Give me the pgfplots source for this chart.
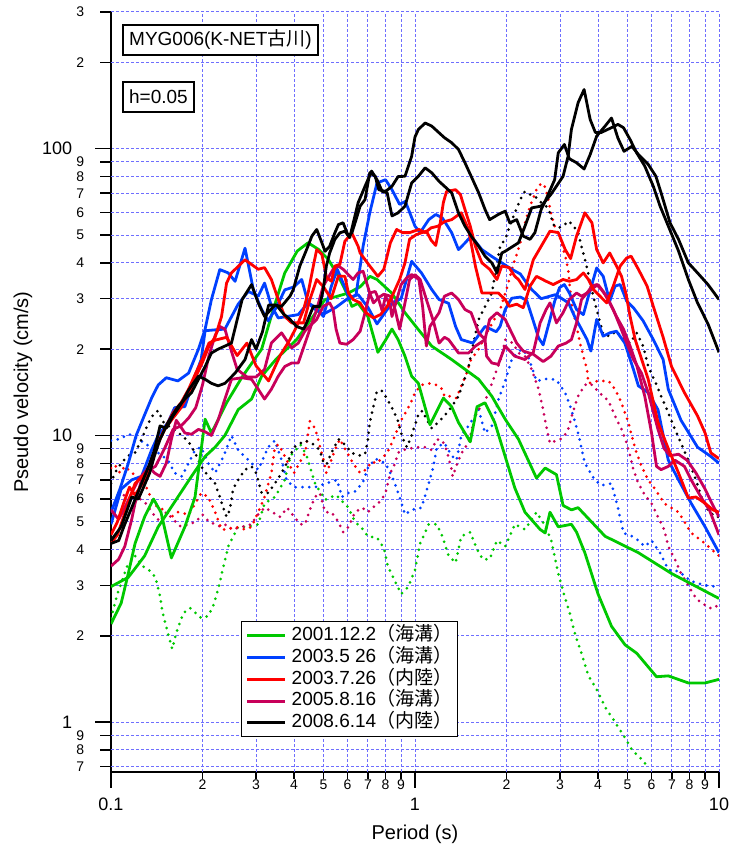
\documentclass[border=0pt]{standalone}
\usepackage{fontspec}
\setmainfont{Liberation Sans}
\newfontfamily\cjk{Noto Sans CJK JP}
\usepackage{pgfplots}
\pgfplotsset{compat=1.18}

\definecolor{cgreen}{RGB}{0,200,0}
\definecolor{cblue}{RGB}{0,64,255}
\definecolor{cred}{RGB}{255,0,0}
\definecolor{ccrim}{RGB}{200,0,90}
\definecolor{cgrid}{RGB}{110,110,255}

\pgfplotsset{
  sol/.style={no marks, line width=1.4pt, line join=round, forget plot},
  dot/.style={no marks, line width=1.5pt, line cap=round, dash pattern=on 0pt off 3.4pt, forget plot},
}

\begin{document}
\begin{tikzpicture}
\begin{axis}[
  scale only axis, width=304pt, height=380pt,
  xmode=log, ymode=log,
  xmin=0.1, xmax=10, ymin=0.67, ymax=300,
  axis x line*=bottom, axis y line*=left,
  axis line style={-, line width=1.4pt},
  tick align=outside, xminorticks=false, yminorticks=false,
  major tick length=8pt,
  tick style={black, line width=0.7pt},
  grid=major,
  major grid style={cgrid, line width=0.5pt, dash pattern=on 1.5pt off 1pt},
  xtick={0.1,1,10}, xticklabels={0.1,1,10},
  ytick={1,10,100}, yticklabels={1,10,100},
  xticklabel style={font=\fontsize{9}{9}\selectfont, anchor=center, yshift=-8pt},
  yticklabel style={font=\fontsize{9}{9}\selectfont, anchor=east, inner sep=0pt, xshift=-11.25pt},
  extra x ticks={0.2,0.3,0.4,0.5,0.6,0.7,0.8,0.9,2,3,4,5,6,7,8,9},
  extra x tick labels={2,3,4,5,6,7,8,9,2,3,4,5,6,7,8,9},
  extra x tick style={grid=major, major tick length=3.5pt,
    xticklabel style={font=\fontsize{7}{7}\selectfont, yshift=5pt}},
  extra y ticks={0.7,0.8,0.9,2,3,4,5,6,7,8,9,20,30,40,50,60,70,80,90,200,300},
  extra y tick labels={7,8,9,2,3,4,5,6,7,8,9,2,3,4,5,6,7,8,9,2,3},
  extra y tick style={grid=major, major tick length=5.5pt,
    yticklabel style={font=\fontsize{7}{7}\selectfont, xshift=3.45pt}},
  xlabel={Period (s)}, ylabel={Pseudo velocity (cm/s)},
  xlabel style={font=\fontsize{10}{10}\selectfont, at={(axis description cs:0.5,-0.0816)}, anchor=center},
  ylabel style={font=\fontsize{10}{10}\selectfont, at={(axis description cs:-0.145,0.5)}, anchor=center},
  legend style={at={(0.2138,0.1987)}, anchor=north west, draw=black, line width=0.75pt,
    font=\fontsize{9.5}{9.5}\selectfont, inner xsep=2pt, inner ysep=1.5pt, row sep=0pt,
    nodes={inner sep=0.5pt, text height=7.4pt, text depth=2.5pt}},
  legend cell align=left,
  legend image code/.code={\draw[line width=1.5pt] (0pt,0pt) -- (19pt,0pt);},
]
\coordinate (SW) at (rel axis cs:0,0);
\coordinate (NE) at (rel axis cs:1,1);

\addlegendimage{cgreen}\addlegendentry{\hspace{2pt}2001.12.2{\cjk （海溝）}}
\addlegendimage{cblue}\addlegendentry{\hspace{2pt}2003.5 26{\cjk （海溝）}}
\addlegendimage{cred}\addlegendentry{\hspace{2pt}2003.7.26{\cjk （内陸）}}
\addlegendimage{ccrim}\addlegendentry{\hspace{2pt}2005.8.16{\cjk （海溝）}}
\addlegendimage{black}\addlegendentry{\hspace{2pt}2008.6.14{\cjk （内陸）}}

% dotted (vertical component)
\addplot[dot, cgreen] coordinates {(0.1,2.3)(0.105,2.8)(0.113,3.5)(0.12,3.8)(0.127,3.5)(0.133,3.4)(0.14,3.2)(0.145,2.75)(0.148,2.4)(0.152,2.15)(0.156,1.94)(0.159,1.8)(0.164,2.05)(0.173,2.4)(0.182,2.5)(0.19,2.4)(0.199,2.3)(0.209,2.35)(0.217,2.55)(0.225,2.9)(0.243,4.1)(0.262,4.8)(0.28,4.8)(0.305,4.9)(0.32,5.8)(0.346,6.1)(0.373,7.0)(0.39,8.5)(0.42,9.3)(0.44,8.5)(0.469,6.8)(0.506,5.97)(0.55,6.2)(0.604,5.6)(0.635,5.0)(0.675,4.7)(0.70,4.45)(0.75,4.4)(0.79,4.05)(0.814,3.5)(0.86,3.1)(0.90,2.8)(0.95,2.96)(1.0,3.4)(1.04,4.2)(1.11,4.9)(1.18,4.9)(1.23,4.45)(1.29,3.8)(1.36,3.6)(1.42,4.45)(1.52,4.6)(1.6,4.0)(1.67,3.7)(1.76,3.7)(1.86,4.3)(1.98,4.1)(2.13,4.9)(2.3,4.7)(2.51,5.4)(2.66,4.9)(2.8,4.35)(2.96,3.3)(3.12,2.7)(3.23,2.4)(3.35,2.05)(3.53,1.74)(3.72,1.45)(3.96,1.3)(4.22,1.13)(4.55,1.0)(4.85,0.9)(5.17,0.8)(5.66,0.73)(5.8,0.7)};
\addplot[dot, cblue] coordinates {(0.1,9.6)(0.106,9.7)(0.115,10.1)(0.123,9.7)(0.133,9.2)(0.143,8.7)(0.154,8.2)(0.162,7.4)(0.171,7.2)(0.18,8.0)(0.189,8.9)(0.198,9.1)(0.209,8.0)(0.22,7.4)(0.235,8.5)(0.249,10)(0.262,8.9)(0.28,8.3)(0.305,7.6)(0.329,9.1)(0.346,9.6)(0.364,8.2)(0.378,7.0)(0.40,6.6)(0.435,6.6)(0.469,6.6)(0.51,6.8)(0.554,7.0)(0.575,6.1)(0.604,6.3)(0.64,6.4)(0.675,6.9)(0.70,7.7)(0.74,8.3)(0.80,8.0)(0.85,7.0)(0.89,6.1)(0.927,5.3)(0.975,5.5)(1.05,5.6)(1.11,6.8)(1.15,7.8)(1.18,9.1)(1.25,9.4)(1.32,8.5)(1.37,8.2)(1.42,10)(1.5,10.8)(1.62,12.3)(1.70,10.2)(1.79,10.8)(1.88,13.3)(1.98,15.5)(2.08,18.4)(2.24,20)(2.35,19)(2.51,15.5)(2.75,15.8)(2.92,15.6)(3.12,14.1)(3.27,12.3)(3.44,10.2)(3.62,8)(3.9,7.0)(4.1,6.7)(4.43,6.8)(4.65,5.6)(4.85,4.57)(5.17,4.45)(5.43,4.3)(5.7,4.1)(6.0,4.3)(6.4,3.9)(6.81,3.4)(7.36,3.36)(8.1,3.1)(9.0,3.0)(10,2.96)};
\addplot[dot, ccrim] coordinates {(0.1,5.5)(0.105,6.0)(0.11,6.2)(0.115,6.0)(0.12,6.2)(0.13,5.8)(0.138,5.3)(0.145,5.0)(0.152,5.4)(0.16,5.1)(0.17,4.8)(0.18,4.9)(0.19,5.0)(0.2,5.3)(0.21,5.0)(0.22,4.9)(0.23,4.8)(0.24,4.9)(0.25,4.7)(0.27,4.8)(0.29,4.9)(0.3,5.2)(0.32,5.6)(0.34,5.4)(0.36,5.2)(0.38,5.6)(0.4,5.2)(0.42,4.9)(0.435,4.9)(0.451,5.5)(0.469,6.1)(0.486,6.3)(0.506,5.4)(0.531,5.4)(0.56,5.0)(0.58,4.6)(0.604,4.8)(0.635,5.4)(0.67,5.6)(0.70,5.4)(0.74,5.7)(0.77,5.9)(0.8,6.3)(0.83,7.4)(0.86,8.0)(0.88,8.7)(0.91,8.9)(0.96,9.0)(1.03,9.1)(1.08,9.1)(1.135,8.9)(1.18,9.7)(1.23,9.6)(1.27,8.9)(1.32,7.6)(1.33,7.2)(1.39,8.2)(1.44,8.9)(1.5,9.4)(1.55,10.8)(1.6,12.2)(1.66,12.6)(1.72,13.6)(1.79,15.2)(1.86,17)(1.93,18.9)(1.98,21.6)(2.1,21)(2.19,19.4)(2.3,18.9)(2.42,17)(2.55,14.5)(2.64,12.3)(2.7,10.8)(2.78,9.4)(2.92,9.6)(3.07,9.8)(3.19,10.5)(3.3,12.0)(3.44,13.7)(3.62,15.0)(3.77,15.2)(3.92,14.6)(4.1,13.9)(4.33,13.2)(4.55,11.7)(4.78,10.5)(4.97,9.4)(5.1,8.5)(5.23,7.6)(5.43,6.8)(5.7,6.2)(6.0,5.8)(6.3,5.2)(6.6,4.7)(6.81,4.1)(7.16,3.7)(7.5,3.3)(7.85,3.05)(8.4,2.7)(8.8,2.6)(9.3,2.5)(9.7,2.5)(10,2.6)};
\addplot[dot, cred] coordinates {(0.1,7.7)(0.103,7.9)(0.107,7.4)(0.111,7.8)(0.117,7.4)(0.123,7.2)(0.129,6.8)(0.138,5.8)(0.143,5.6)(0.15,5.5)(0.158,5.2)(0.166,5.4)(0.18,5.3)(0.186,5.6)(0.198,6.3)(0.209,6.1)(0.22,5.4)(0.231,4.7)(0.243,4.7)(0.256,4.8)(0.276,4.7)(0.29,4.8)(0.305,5.4)(0.32,6.1)(0.337,7.4)(0.346,9.1)(0.355,9.3)(0.364,8.9)(0.383,8.0)(0.40,7.4)(0.435,8.7)(0.451,11.2)(0.469,10.6)(0.48,9.7)(0.499,8.3)(0.511,7.4)(0.524,7.9)(0.545,8.9)(0.566,9.7)(0.588,9.0)(0.63,7.9)(0.66,7.4)(0.69,7.6)(0.72,8.1)(0.75,8.0)(0.81,8.7)(0.85,9.7)(0.90,11.3)(0.927,11.9)(0.975,13.2)(1.0,14.1)(1.05,15.0)(1.11,15.2)(1.18,15.0)(1.23,14.5)(1.25,13.7)(1.32,13.7)(1.37,13.5)(1.42,14.9)(1.48,16.5)(1.52,18.2)(1.62,20)(1.75,23.5)(1.905,27.5)(2.0,32.3)(2.1,39)(2.22,47)(2.3,55)(2.39,63)(2.51,72)(2.6,75.7)(2.66,75)(2.73,68.4)(2.8,59.8)(2.88,53.7)(2.99,49.6)(3.12,42.2)(3.19,38)(3.27,29)(3.4,24)(3.49,21)(3.58,18.9)(3.68,17.0)(3.72,15.2)(4.0,15.5)(4.33,15.5)(4.55,14.5)(4.78,13.0)(5.03,11.1)(5.3,9.0)(5.56,7.8)(5.85,7.0)(6.16,6.5)(6.6,5.8)(7.36,5.4)(8.1,4.57)(9.0,4.2)(10,3.8)};
\addplot[dot, black] coordinates {(0.1,6.8)(0.103,7.4)(0.108,8.0)(0.114,8.5)(0.12,8.7)(0.126,9.7)(0.133,11.1)(0.139,12)(0.143,12.2)(0.149,11.1)(0.158,10.6)(0.171,10)(0.18,9.5)(0.189,8.7)(0.198,7.8)(0.209,7.2)(0.22,6.8)(0.228,6.1)(0.234,5.6)(0.24,5.2)(0.246,5.5)(0.252,6.5)(0.262,7.0)(0.276,7.6)(0.29,7.8)(0.30,7.4)(0.313,6.3)(0.329,6.3)(0.346,6.8)(0.364,7.4)(0.383,8.2)(0.40,9.1)(0.435,9.6)(0.458,9.4)(0.486,8.9)(0.499,8.1)(0.511,7.9)(0.531,8.7)(0.56,9.7)(0.588,9.3)(0.62,8.7)(0.65,8.5)(0.685,8.6)(0.70,9.7)(0.71,11.1)(0.73,12.6)(0.75,14.3)(0.78,14.3)(0.81,13.4)(0.85,12.2)(0.88,11.2)(0.91,9.8)(0.94,9.1)(0.975,10)(1.03,12)(1.06,12.2)(1.09,11.4)(1.135,10.6)(1.19,11.1)(1.25,11.7)(1.32,12.6)(1.39,13.7)(1.44,15.2)(1.5,17.4)(1.55,20.5)(1.62,25.4)(1.79,31.4)(1.905,45.7)(1.98,48.3)(2.05,53.7)(2.13,59.8)(2.22,66.5)(2.3,71)(2.39,69.3)(2.48,68.3)(2.57,65.6)(2.7,63.1)(2.78,59.8)(2.85,54.4)(2.96,53)(3.07,53.7)(3.19,55.9)(3.3,54.4)(3.44,51)(3.53,45.7)(3.62,41.2)(3.69,38)(3.77,34)(3.86,30.6)(3.96,27.5)(4.06,24.8)(4.16,22.5)(4.37,22.2)(4.6,23.1)(4.85,21.6)(5.1,21)(5.36,22.8)(5.63,20.5)(5.85,17.4)(6.2,15.2)(6.45,13.7)(6.81,12.0)(7.16,10.5)(7.5,9.4)(7.93,8.2)(8.4,7.0)(8.8,6.0)(9.2,5.5)(9.7,5.2)(10,5.2)};

% green 2001.12.2
\addplot[sol, cgreen] coordinates {(0.1,2.97)(0.114,3.2)(0.129,3.8)(0.143,4.8)(0.166,6.1)(0.184,7.2)(0.204,8.45)(0.22,9.1)(0.237,10)(0.262,12.3)(0.29,13.4)(0.313,16.1)(0.35,18.5)(0.408,21.6)(0.45,25)(0.506,29.8)(0.55,30.5)(0.604,31.4)(0.66,33)(0.711,35.9)(0.75,35)(0.838,31.4)(0.927,26.8)(1.026,23.4)(1.135,20.5)(1.32,18.4)(1.62,15.7)(1.79,13.7)(1.98,11.4)(2.19,9.7)(2.51,7.1)(2.68,7.7)(2.92,7.3)(3.07,5.7)(3.27,5.5)(3.44,5.6)(4.22,4.45)(5.43,3.9)(6.98,3.3)(10,2.7)};
\addplot[sol, cgreen] coordinates {(0.1,2.2)(0.108,2.6)(0.114,3.3)(0.12,4.2)(0.129,5.2)(0.138,6.0)(0.146,5.4)(0.158,3.74)(0.175,4.8)(0.189,6.1)(0.204,11.4)(0.214,10.2)(0.24,13)(0.27,16)(0.313,20)(0.34,27)(0.373,36.9)(0.41,44)(0.445,47)(0.481,44.6)(0.518,41.2)(0.56,35.9)(0.596,31.4)(0.62,28.2)(0.65,28.9)(0.7,26)(0.755,19.5)(0.8,21.5)(0.84,23.5)(0.88,21.6)(0.927,18.9)(0.975,16.1)(1.026,15.2)(1.12,10.9)(1.24,13.5)(1.32,12.6)(1.39,11.1)(1.52,9.5)(1.6,12.6)(1.7,13)(1.83,11.1)(1.98,8.45)(2.13,6.56)(2.3,5.4)(2.58,4.7)(2.68,4.57)(2.78,5.4)(2.96,4.8)(3.27,4.9)(3.4,4.6)(3.62,3.9)(4.0,2.8)(4.43,2.16)(4.91,1.86)(5.36,1.74)(6.23,1.44)(6.81,1.45)(7.93,1.37)(9.0,1.37)(10,1.41)};

% blue 2003.5.26
\addplot[sol, cblue] coordinates {(0.1,5.4)(0.107,6.5)(0.114,8)(0.121,10)(0.129,11.8)(0.136,13.5)(0.143,15)(0.152,15.9)(0.166,15.5)(0.18,16.5)(0.194,20)(0.204,23.5)(0.214,29.8)(0.228,37.9)(0.243,36.9)(0.256,34.5)(0.276,45)(0.294,32.2)(0.313,27.5)(0.329,25.1)(0.35,28)(0.373,32.2)(0.4,33)(0.424,35)(0.445,29)(0.47,28)(0.5,26)(0.53,33)(0.555,38)(0.58,34)(0.61,30)(0.64,31)(0.675,45.7)(0.71,59.8)(0.75,76)(0.8,78)(0.84,72)(0.89,64)(0.93,65.5)(1.0,53.7)(1.04,51)(1.11,56.6)(1.17,59)(1.23,57.4)(1.32,51)(1.39,44.5)(1.46,46.9)(1.53,49.6)(1.66,44.5)(1.79,42.1)(1.93,40)(2.08,38)(2.22,36.6)(2.33,34)(2.42,32.3)(2.6,30)(2.9,31)(3.2,29)(3.35,26)(3.49,24)(3.68,21.6)(3.79,19.7)(3.96,25.4)(4.16,22.2)(4.37,22.8)(4.6,23.1)(4.9,21)(5.23,17)(5.43,14.9)(5.85,14.1)(6.3,12.3)(6.81,8.2)(7.36,7.0)(8.1,5.8)(9.0,4.8)(10,3.9)};
\addplot[sol, cblue] coordinates {(0.1,4.9)(0.108,6.5)(0.117,7.0)(0.126,7.2)(0.136,8.9)(0.143,10)(0.154,11.1)(0.162,12.5)(0.175,12.6)(0.189,16.1)(0.198,18.4)(0.204,23.2)(0.237,23.5)(0.262,28.7)(0.283,31.8)(0.305,30.6)(0.32,34)(0.337,28.3)(0.355,25.7)(0.413,26.4)(0.445,29)(0.47,27.5)(0.5,26.5)(0.55,28)(0.6,30)(0.65,31)(0.7,28)(0.75,24.5)(0.8,27)(0.84,29)(0.9,30)(0.975,40.5)(1.05,36.9)(1.135,32.3)(1.2,29.8)(1.29,28.9)(1.36,24)(1.42,21.6)(1.55,21)(1.7,24)(1.85,23)(1.905,24)(1.98,27.5)(2.08,30.1)(2.22,30.4)(2.33,29.6)(2.45,25.1)(2.55,21.9)(2.64,20.7)(2.78,25.4)(2.88,29.4)(2.99,32.8)(3.1,33.6)(3.22,31.4)(3.4,27.5)(3.58,26.4)(3.72,30.6)(3.96,38.4)(4.16,35.9)(4.37,29.4)(4.55,33.2)(4.73,33.6)(4.97,29.4)(5.23,27.9)(5.63,25.1)(6.08,21.6)(6.55,18.4)(6.81,14.5)(7.5,11.3)(8.5,9.1)(9.4,8.45)(10,8.0)};

% crimson 2005.8.16
\addplot[sol, ccrim] coordinates {(0.1,3.5)(0.106,3.7)(0.111,4.1)(0.117,5.1)(0.12,5.8)(0.126,7.0)(0.133,7.8)(0.139,7.4)(0.145,7.2)(0.152,8.0)(0.158,9.7)(0.164,11.3)(0.175,10.2)(0.184,10.1)(0.194,10.5)(0.204,10.3)(0.214,10)(0.225,11.3)(0.237,13.4)(0.249,15.7)(0.27,15.9)(0.29,15.7)(0.305,14.5)(0.32,13.4)(0.337,14.5)(0.355,16.1)(0.373,17.4)(0.393,17.9)(0.413,17.9)(0.435,21)(0.475,27.5)(0.499,33.2)(0.538,38)(0.56,39)(0.58,38)(0.626,35)(0.65,36.9)(0.675,37.4)(0.71,31.4)(0.73,29)(0.76,30.3)(0.79,31.1)(0.83,30.6)(0.86,27.5)(0.89,23.5)(0.927,29)(0.96,35)(1.0,36.4)(1.04,35)(1.09,29.8)(1.15,25)(1.2,21)(1.25,22)(1.29,21.6)(1.39,19.4)(1.5,19.4)(1.58,20.5)(1.7,21.6)(1.72,18.9)(1.79,17.9)(1.88,17.7)(1.98,20.5)(2.13,18.9)(2.3,18.4)(2.45,19.5)(2.58,24.7)(2.7,27.5)(2.78,29)(2.92,24.7)(3.07,26.8)(3.22,29.8)(3.4,31.4)(3.53,30.6)(3.68,31.4)(3.82,33.2)(3.96,33.6)(4.1,32.3)(4.27,30.6)(4.49,27.5)(4.73,24)(4.97,21)(5.23,18.4)(5.56,16.5)(5.85,14.1)(6.3,10.5)(6.6,9.0)(6.9,8.5)(7.36,8.6)(7.85,8.2)(8.4,7.4)(9.0,6.5)(9.55,5.7)(10,5.2)};
\addplot[sol, ccrim] coordinates {(0.1,5.5)(0.106,5.1)(0.111,5.6)(0.117,6.3)(0.123,7.0)(0.13,7.5)(0.14,7.8)(0.15,9)(0.16,10.5)(0.17,10.8)(0.18,11.5)(0.19,12.5)(0.2,15)(0.21,19)(0.22,22.3)(0.228,24)(0.237,23.5)(0.246,20.5)(0.26,17)(0.28,16)(0.3,16)(0.32,17)(0.337,21)(0.364,22.8)(0.393,20.2)(0.413,21)(0.435,23.2)(0.475,25.4)(0.499,28.2)(0.524,29)(0.538,27.5)(0.55,23.5)(0.566,21)(0.596,20.8)(0.626,21.6)(0.66,23.1)(0.685,26.8)(0.71,31.4)(0.74,31.8)(0.76,29.8)(0.78,27.2)(0.8,30.6)(0.83,28.2)(0.84,26)(0.9,33.6)(0.94,35.5)(0.975,36.4)(1.03,35)(1.06,28)(1.09,20.5)(1.12,24)(1.2,26.8)(1.25,30.6)(1.32,31.4)(1.39,29.8)(1.46,27.5)(1.53,26.8)(1.62,22.8)(1.7,21.6)(1.76,25.4)(1.86,26.8)(1.98,25.4)(2.08,22.8)(2.16,21)(2.27,19.7)(2.45,19.2)(2.64,18.1)(2.8,18.9)(2.96,20.5)(3.14,21)(3.27,21.6)(3.4,24.7)(3.53,29.8)(3.68,31.4)(3.86,32.7)(4.0,33.6)(4.16,31.8)(4.37,29)(4.6,26)(4.85,23.5)(5.1,20.5)(5.36,17.6)(5.7,13.7)(6.0,10.2)(6.23,7.8)(6.45,7.6)(6.81,7.8)(7.16,8.2)(7.7,7.8)(8.1,7.0)(8.8,6.0)(9.3,5.5)(10,4.5)};

% red 2003.7.26
\addplot[sol, cred] coordinates {(0.1,4.5)(0.105,5)(0.11,5.8)(0.115,6.6)(0.12,6.2)(0.127,6.8)(0.133,7.5)(0.14,9)(0.15,10.5)(0.16,11.5)(0.17,12.5)(0.18,14)(0.19,16)(0.2,18)(0.21,20.5)(0.22,22)(0.231,26)(0.24,34)(0.249,36.9)(0.276,41)(0.305,38)(0.32,38.5)(0.337,35)(0.355,29.8)(0.373,26)(0.393,24.7)(0.413,24.7)(0.43,24.7)(0.451,29.8)(0.475,35)(0.5,33)(0.53,30)(0.56,36)(0.588,35.9)(0.604,31.4)(0.626,29.8)(0.66,29)(0.69,26.8)(0.73,25.7)(0.77,26.4)(0.81,28.2)(0.85,31.4)(0.89,35)(0.927,40)(0.96,48.4)(1.01,50.2)(1.09,51.6)(1.13,48)(1.17,46)(1.21,55)(1.24,65)(1.27,71)(1.36,72)(1.41,69.3)(1.46,61.4)(1.52,53.7)(1.58,45.7)(1.66,40)(1.76,38)(1.86,35)(1.93,39)(2.04,38.5)(2.13,35.9)(2.19,35)(2.3,32.3)(2.45,41)(2.78,51.6)(2.96,51)(3.12,44.5)(3.25,41.4)(3.4,49.6)(3.62,59.8)(3.82,55.2)(3.96,44.5)(4.16,40)(4.37,43.3)(4.6,39)(4.78,35.9)(4.95,31)(5.1,26)(5.3,21.6)(5.85,15.7)(6.3,11.1)(6.81,9)(7.36,7.4)(7.93,6.05)(8.4,6.1)(9,5.8)(9.55,5.5)(10,5.4)};
\addplot[sol, cred] coordinates {(0.1,4.2)(0.105,4.5)(0.11,5.2)(0.115,6)(0.12,6.8)(0.127,7.2)(0.133,7.6)(0.14,9)(0.15,10.5)(0.16,12)(0.17,13)(0.18,14.5)(0.19,16.5)(0.2,18.5)(0.21,21)(0.22,21.5)(0.24,22)(0.26,19)(0.28,21)(0.3,17.5)(0.33,15.5)(0.36,19)(0.388,21.6)(0.408,24)(0.43,27.5)(0.445,31.4)(0.463,39)(0.475,44.5)(0.494,42.8)(0.512,35.5)(0.531,34.5)(0.545,39)(0.566,39.5)(0.588,47.6)(0.62,50.8)(0.65,45.7)(0.66,43.3)(0.71,39)(0.755,35.9)(0.79,38)(0.83,47)(0.87,52.3)(0.91,51)(0.96,51)(1.03,52.3)(1.08,51)(1.13,53)(1.19,53.7)(1.25,55.7)(1.32,56.6)(1.42,59.8)(1.5,52.3)(1.58,39)(1.66,31.4)(1.79,31.4)(1.88,31.4)(1.98,29.8)(2.04,28.2)(2.16,28.7)(2.27,27.9)(2.39,33.2)(2.51,35.9)(2.7,34.5)(2.85,33.6)(3.07,35)(3.22,34.5)(3.4,35)(3.58,36.9)(3.72,35)(3.86,32.3)(4.06,30.6)(4.27,29)(4.49,33.2)(4.73,39)(4.97,41.6)(5.14,42.2)(5.43,38)(5.8,33.2)(6.08,28.2)(6.55,22)(6.98,17.4)(7.7,14.1)(8.5,11.7)(9.0,10.2)(9.4,8.7)(10,8.3)};

% black 2008.6.14
\addplot[sol, black] coordinates {(0.1,4.3)(0.108,4.8)(0.117,6.1)(0.123,6.0)(0.128,6.6)(0.134,7.4)(0.139,8.5)(0.145,9.7)(0.154,11.1)(0.166,12.6)(0.175,13.4)(0.184,14.1)(0.194,15.7)(0.204,17.4)(0.214,19.4)(0.225,20)(0.237,20.5)(0.249,21)(0.27,29.8)(0.29,33.6)(0.305,29)(0.32,26)(0.346,28.5)(0.364,28.2)(0.388,30.6)(0.398,32.3)(0.418,39)(0.44,44.5)(0.458,49.6)(0.475,52.3)(0.494,47)(0.506,43.9)(0.524,45.7)(0.545,50.9)(0.56,54.4)(0.58,55.2)(0.604,49.6)(0.62,50.9)(0.64,56.6)(0.66,63.1)(0.685,66.5)(0.71,82.5)(0.74,80.2)(0.76,72)(0.8,71)(0.84,74)(0.88,80)(0.927,80.2)(0.975,94.2)(1.0,110)(1.026,116.8)(1.08,123)(1.135,120)(1.2,113.7)(1.25,109.3)(1.32,105)(1.39,99.5)(1.46,89.4)(1.53,80.2)(1.62,70.2)(1.7,61.4)(1.76,56.6)(1.88,59)(1.98,60.6)(2.05,55.2)(2.16,56.6)(2.27,49.6)(2.39,48.3)(2.48,51)(2.6,61.4)(2.68,65.6)(2.88,78)(2.96,96.8)(3.1,103.5)(3.22,92.3)(3.4,89.4)(3.6,85)(3.77,95.5)(3.96,110.7)(4.22,120)(4.43,128)(4.65,109)(4.87,98)(5.17,102)(5.43,95.5)(5.85,88.2)(6.2,80.2)(6.45,70.2)(6.9,55.2)(7.36,48.3)(7.93,40)(8.5,36.9)(9.2,33.6)(10,29.8)};
\addplot[sol, black] coordinates {(0.1,4.2)(0.106,4.3)(0.111,4.9)(0.117,5.6)(0.126,6.8)(0.133,7.8)(0.139,8.9)(0.145,10.8)(0.152,10.6)(0.16,11.7)(0.171,13)(0.18,14.4)(0.194,16.1)(0.204,15.7)(0.214,15.2)(0.225,14.9)(0.237,15.2)(0.256,16.5)(0.276,18.4)(0.29,21.6)(0.3,20)(0.315,23)(0.33,28.5)(0.35,28.5)(0.37,26.5)(0.388,25.4)(0.408,24)(0.43,23.5)(0.44,24.7)(0.463,28.2)(0.486,28.2)(0.499,32.3)(0.511,39)(0.524,43.3)(0.545,48.3)(0.566,50.9)(0.588,51.6)(0.61,49)(0.65,64.8)(0.685,74)(0.72,83.6)(0.75,78)(0.78,71)(0.81,70.2)(0.84,58.3)(0.88,59.8)(0.927,63.1)(0.975,76)(1.026,80.2)(1.08,85.8)(1.135,82.5)(1.2,77)(1.25,74)(1.32,70.2)(1.39,59.8)(1.46,53.7)(1.53,49.6)(1.62,45.7)(1.7,42.2)(1.79,40)(1.86,36.9)(1.93,43.3)(1.98,43.9)(2.19,47)(2.3,53.7)(2.42,62.2)(2.6,63.1)(2.8,69.3)(3.07,80.2)(3.19,94.2)(3.27,116.8)(3.44,144.8)(3.6,161)(3.77,126.5)(3.92,114)(4.1,114)(4.43,118.5)(4.65,121.6)(4.85,118.5)(5.1,107.7)(5.36,96.8)(5.7,87)(6.08,74)(6.4,63.1)(6.9,52)(7.36,44)(7.93,35)(8.5,29)(9.2,24.5)(10,19.5)};

\node[draw, line width=0.75pt, fill=white, anchor=north west, inner xsep=3pt, inner ysep=2pt, minimum height=15pt, font=\fontsize{9.5}{9.5}\selectfont] at (rel axis cs:0.0188,0.9842) {MYG006(K-NET{\cjk 古川})};
\node[draw, line width=0.75pt, fill=white, anchor=north west, inner xsep=3pt, inner ysep=2pt, minimum height=15pt, font=\fontsize{9.5}{9.5}\selectfont] at (rel axis cs:0.0188,0.9092) {h=0.05};
\end{axis}
\pgfresetboundingbox
\path ([shift={(-55.5pt,-37pt)}]SW) rectangle ([shift={(5.5pt,6pt)}]NE);
\end{tikzpicture}
\end{document}
